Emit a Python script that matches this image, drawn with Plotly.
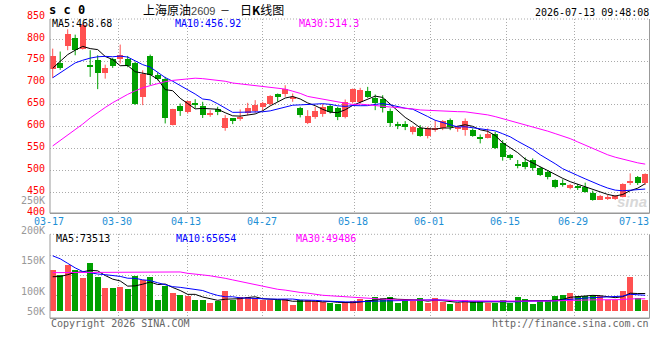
import plotly.graph_objects as go
import pandas as pd

W, H = 660, 360

# ---------------- data ----------------
dates = ["03-17","03-18","03-19","03-20","03-23","03-24","03-25","03-26","03-27","03-30",
         "03-31","04-01","04-02","04-03","04-07","04-08","04-09","04-10","04-13","04-14",
         "04-15","04-16","04-17","04-20","04-21","04-22","04-23","04-24","04-27","04-28",
         "04-29","04-30","05-06","05-07","05-08","05-11","05-12","05-13","05-14","05-15",
         "05-18","05-19","05-20","05-21","05-22","05-25","05-26","05-27","05-28","05-29",
         "06-01","06-02","06-03","06-04","06-05","06-08","06-09","06-10","06-11","06-12",
         "06-15","06-16","06-17","06-18","06-22","06-23","06-24","06-25","06-26","06-29",
         "06-30","07-01","07-02","07-03","07-06","07-07","07-08","07-09","07-10","07-13"]

opens = [731.5, 746, 784.8, 803.8, 778.7, 740.7, 752, 724, 754.3, 755.9,
         755.9, 746, 668.3, 762, 717.8, 710.2, 605, 647.8, 634, 655.4,
         648, 627.3, 639.5, 596, 619, 616.6, 630.3, 636.4, 645.6, 651.7,
         674.5, 676, 662.3, 641.7, 609, 622.7, 628.8, 647, 641.7, 622.7,
         656.9, 656.9, 681.3, 666, 663, 635.6, 606.7, 606.7, 586.9, 597.6,
         579.3, 592.2, 596, 615.1, 594.5, 592.2, 592.2, 577, 574.7, 582.3,
         563, 534.4, 514.6, 520, 523.8, 504.8, 497.1, 478.1, 470.5, 459.1,
         464.4, 462.9, 447.7, 432.5, 434, 434, 440, 472, 484.2, 470.5]
highs = [778.7, 772, 822.8, 810.7, 836, 775, 763.5, 742, 757.4, 788,
         762, 748, 729, 765, 724, 714, 641, 653, 659, 663,
         657, 638, 645.6, 626.5, 619.5, 639.5, 654.7, 660.8, 657, 672.2,
         676, 695, 676, 645.6, 638, 645.6, 651.7, 651.7, 645.6, 662.3,
         687.4, 688.9, 691.2, 673.7, 672.1, 641.7, 611.3, 612.8, 602.1, 603.7,
         599.8, 615.1, 615.1, 618.9, 602.1, 618.9, 596, 582.3, 596, 588.4,
         569.4, 537.5, 523.8, 529.9, 527.6, 508.6, 501, 479.6, 479.6, 469,
         469, 472, 453.8, 443.9, 443.9, 443.9, 470.5, 493.3, 487.2, 493.3]
lows = [711.7, 730, 775, 763.5, 776.5, 714, 686, 710, 734.6, 744.5,
        736, 650, 649.3, 695, 706, 607.5, 603, 624.7, 630, 641.7,
        620, 622.7, 626.5, 590.8, 606, 613.6, 626.5, 632, 636.4, 649.4,
        657, 668.4, 657, 621.2, 606, 618, 622.7, 630.3, 615, 619,
        653.1, 653.1, 666, 637.9, 632.6, 599.8, 594.5, 592.2, 582.3, 577,
        573.2, 588.4, 592.2, 592.2, 588.4, 579.3, 577, 561.8, 573.2, 548.9,
        522.3, 523.8, 504.8, 502.5, 499.4, 487.2, 479.6, 459.1, 462.9, 456.8,
        455.3, 449.2, 430.9, 432.5, 432.5, 432.5, 438.5, 466.7, 466.7, 466.7]
closes = [762, 735.3, 813, 775, 833.5, 736.8, 724, 734.6, 739, 763.5,
          739, 653.1, 721.6, 719.3, 710.2, 620.4, 640.2, 635.6, 658.5, 649.3,
          626, 631.9, 634, 619, 613.6, 622.7, 641.7, 649.3, 654.7, 669.9,
          666.9, 687.4, 666.9, 626.5, 624.2, 635.7, 645.6, 634, 621.2, 657,
          685.8, 683.6, 668.4, 655.4, 641.7, 607.5, 602.1, 599.8, 599.8, 579.3,
          596, 597.6, 612.8, 599.8, 599.8, 612.8, 579.3, 573.2, 582.3, 551.9,
          530, 527.6, 511.6, 508.6, 504.8, 489.5, 484.2, 462.9, 468.2, 466.7,
          459.9, 451.5, 432.5, 441.6, 440, 441.6, 469, 475.8, 470.5, 491.8]
volumes = [177500, 158600, 202600, 180600, 144000, 210000, 148000, 100000, 100000, 104000,
           95600, 154000, 136600, 148000, 48500, 107000, 77800, 70500, 63000, 48500,
           48500, 33800, 41000, 88000, 48500, 60000, 60000, 55800, 45500, 45500,
           45500, 51400, 26400, 48500, 48500, 41000, 36700, 33800, 30800, 38200,
           44000, 51400, 48500, 60000, 55800, 60000, 33800, 48500, 44000, 55800,
           33800, 55800, 36700, 30800, 33800, 48500, 41000, 44000, 33800, 33800,
           48500, 33800, 58500, 52900, 30800, 44000, 44000, 66000, 70500, 77800,
           63000, 63000, 70500, 63000, 48500, 48500, 85000, 147000, 55800, 48500]

# moving-average values for the first days (need earlier data)
ma5_head = [734, 750, 765, 775]
ma10_head = [712, 724, 736, 746, 752, 757, 760, 761, 760]
ma30_head = [556, 568, 581, 594, 606, 620, 633, 644, 655, 665,
             674, 682, 689, 694, 699, 703, 706, 708, 710, 711,
             710, 708, 706, 704, 700, 698, 697, 695, 693]
vma5_head = [151000, 152000, 160000, 170000]
vma10_head = [243000, 230000, 210000, 190000, 174000, 168000, 163000, 160000, 156000]
vma30_head = [169000, 169000, 169000, 169000, 169000, 169000, 169000, 169000, 169000, 169000,
              169000, 169000, 172000, 172000, 172000, 172000, 172000, 172000, 166000, 164000,
              159000, 155000, 151000, 144000, 137000, 130000, 122000, 115000, 107000]

ma_labels = ["MA5:468.68", "MA10:456.92", "MA30:514.3"]
vma_labels = ["MA5:73513", "MA10:65654", "MA30:49486"]
price_ticks = [850, 800, 750, 700, 650, 600, 550, 500, 450, 400]
vol_tick_labels = ["250K", "200K", "150K", "100K", "50K"]
label_dates = ["03-17", "03-30", "04-13", "04-27", "05-18", "06-01", "06-15", "06-29", "07-13"]

# ---------------- helpers ----------------
def with_head(values, head, n):
    roll = pd.Series(values, dtype=float).rolling(n).mean().tolist()
    return list(head) + roll[len(head):]

ma5 = with_head(closes, ma5_head, 5)
ma10 = with_head(closes, ma10_head, 10)
ma30 = with_head(closes, ma30_head, 30)
vma5 = with_head(volumes, vma5_head, 5)
vma10 = with_head(volumes, vma10_head, 10)
vma30 = with_head(volumes, vma30_head, 30)

def px(x):
    return x / W

def py(y):
    return 1 - y / H

N = len(dates)
idx = list(range(N))
RED = "#FF5050"
GREEN = "#00A000"
up = [c >= o for o, c in zip(opens, closes)]
colors = [RED if u else GREEN for u in up]

# pixel geometry
X0, X1 = 50, 649.5
SLOT = 7.5
C0 = 52.7
xrange_ = [(X0 - C0) / SLOT, (X1 - C0) / SLOT]
P_TOP, P_BOT = 19, 213.3
PSC = 0.4371  # px per price unit


def price_at(y):
    return 800 - (y - 39.3) / PSC

V_TOP, V_BOT = 234.3, 318.3
V_BASE = 311.0
VSC = 0.000227


def vol_at(y):
    return (V_BASE - y) / VSC

# grid x (sina places gridlines on a slightly different scale)
def grid_px(d):
    return 50.3 + 7.595 * d

grid_idx = [dates.index(d) for d in label_dates[1:-1]]
grid_x_units = [(grid_px(d) - C0) / SLOT for d in grid_idx]

fig = go.Figure()

# wicks
for col, flag in ((RED, True), (GREEN, False)):
    xs, ys = [], []
    for i in idx:
        if up[i] == flag:
            xs += [i, i, None]
            ys += [lows[i], highs[i], None]
    fig.add_trace(go.Scatter(x=xs, y=ys, mode="lines", line=dict(color=col, width=1),
                             hoverinfo="skip", xaxis="x", yaxis="y"))

# bodies
base = [min(o, c) for o, c in zip(opens, closes)]
hgt = [max(abs(c - o), 2.0) for o, c in zip(opens, closes)]
fig.add_trace(go.Bar(x=idx, y=hgt, base=base, width=0.8, marker=dict(color=colors, line=dict(width=0)),
                     xaxis="x", yaxis="y"))

for vals, col in ((ma5, "#000000"), (ma10, "#0000FF"), (ma30, "#FF00FF")):
    fig.add_trace(go.Scatter(x=idx, y=vals, mode="lines", line=dict(color=col, width=1),
                             xaxis="x", yaxis="y"))

# volume
fig.add_trace(go.Bar(x=idx, y=volumes, width=0.8, marker=dict(color=colors, line=dict(width=0)),
                     xaxis="x2", yaxis="y2"))
for vals, col in ((vma5, "#000000"), (vma10, "#0000FF"), (vma30, "#FF00FF")):
    fig.add_trace(go.Scatter(x=idx, y=vals, mode="lines", line=dict(color=col, width=1),
                             xaxis="x2", yaxis="y2"))

GRID = dict(showgrid=True, gridcolor="#AAAAAA", gridwidth=1, griddash="1px,2px",
            zeroline=False, showticklabels=False, ticks="", showline=False)

fig.update_layout(
    width=W, height=H, margin=dict(l=0, r=0, t=0, b=0),
    paper_bgcolor="white", plot_bgcolor="white", showlegend=False, bargap=0,
    xaxis=dict(domain=[px(X0), px(X1)], range=xrange_, tickmode="array", tickvals=grid_x_units,
               anchor="y", **GRID),
    yaxis=dict(domain=[py(P_BOT), py(P_TOP)], range=[price_at(P_BOT), price_at(P_TOP)],
               tickmode="array", tickvals=[450, 500, 550, 600, 650, 700, 750, 800], anchor="x", **GRID),
    xaxis2=dict(domain=[px(X0), px(X1)], range=xrange_, tickmode="array", tickvals=grid_x_units,
                anchor="y2", **GRID),
    yaxis2=dict(domain=[py(V_BOT), py(V_TOP)], range=[vol_at(V_BOT), vol_at(V_TOP)],
                tickmode="array", tickvals=[vol_at(255.7), vol_at(275), vol_at(295)], anchor="x2", **GRID),
)

shapes = []
def seg(x0, y0, x1, y1, color="#999999", dash="solid", width=1):
    shapes.append(dict(type="line", xref="paper", yref="paper", x0=px(x0), y0=py(y0), x1=px(x1), y1=py(y1),
                       line=dict(color=color, width=width, dash=dash)))

for top, bot in ((P_TOP, P_BOT), (V_TOP, V_BOT)):
    seg(X0, top, X1, top, color="#AAAAAA", dash="1px,2px")
    seg(X0, top, X0, bot)
    seg(X0, bot, X1, bot, width=1.5)
    seg(X1, top, X1, bot)
fig.update_layout(shapes=shapes)

MONO = "DejaVu Sans Mono"
ann = []
def text(x, y, s, color="#000000", size=10, anchor="left", family=MONO, **kw):
    ann.append(dict(xref="paper", yref="paper", x=px(x), y=py(y), text=s, showarrow=False,
                    xanchor=anchor, yanchor="middle", font=dict(family=family, size=size, color=color),
                    borderpad=0, **kw))

# title
text(47.5, 10, "<b>s c 0</b>", size=12)
text(141.5, 9.5, "上海原油<span style='color:#444444;font-family:Liberation Sans;font-size:11px'>2609</span>",
     size=12, family="Noto Sans CJK SC")
text(225, 9.5, "－", size=10, anchor="center", family="Noto Sans CJK SC")
text(239, 9.5, "日<b>K</b>线图", size=12, family="Noto Sans CJK SC")
text(649.5, 12.3, "2026-07-13 09:48:08", anchor="right")

# MA labels
text(51, 23.3, ma_labels[0], color="#000000")
text(174, 23.3, ma_labels[1], color="#0000FF")
text(298.3, 23.3, ma_labels[2], color="#FF00FF")
text(55, 238.5, vma_labels[0], color="#000000")
text(174.7, 238.5, vma_labels[1], color="#0000FF")
text(295, 238.5, vma_labels[2], color="#FF00FF")

# price axis labels
for p in price_ticks:
    gy = 39.3 + (800 - p) * PSC
    text(46, gy - 2.2, str(p), color="#FF0000", anchor="right")

# volume axis labels (as placed in the original)
for s, y in zip(vol_tick_labels, [200.7, 230.7, 260.7, 291.7, 311]):
    text(46, y, s, color="#999999", anchor="right")

# date labels
BLUE = "#1E8FD5"
text(49, 221.7, label_dates[0], color=BLUE, anchor="center")
for d in label_dates[1:-1]:
    text(grid_px(dates.index(d)) - 1.3, 221.7, d, color=BLUE, anchor="center")
text(649.5, 221.7, label_dates[-1], color=BLUE, anchor="right")

# footer
text(50, 323.5, "Copyright 2026 SINA.COM", color="#666666")
text(649.5, 323.5, "http://finance.sina.com.cn", color="#666666", anchor="right")

# watermark
text(648, 201, "<i><b>sina</b></i>", color="#D8D8D8", size=15, anchor="right", family="Liberation Sans")

fig.update_layout(annotations=ann)
fig.write_html("out.html")
